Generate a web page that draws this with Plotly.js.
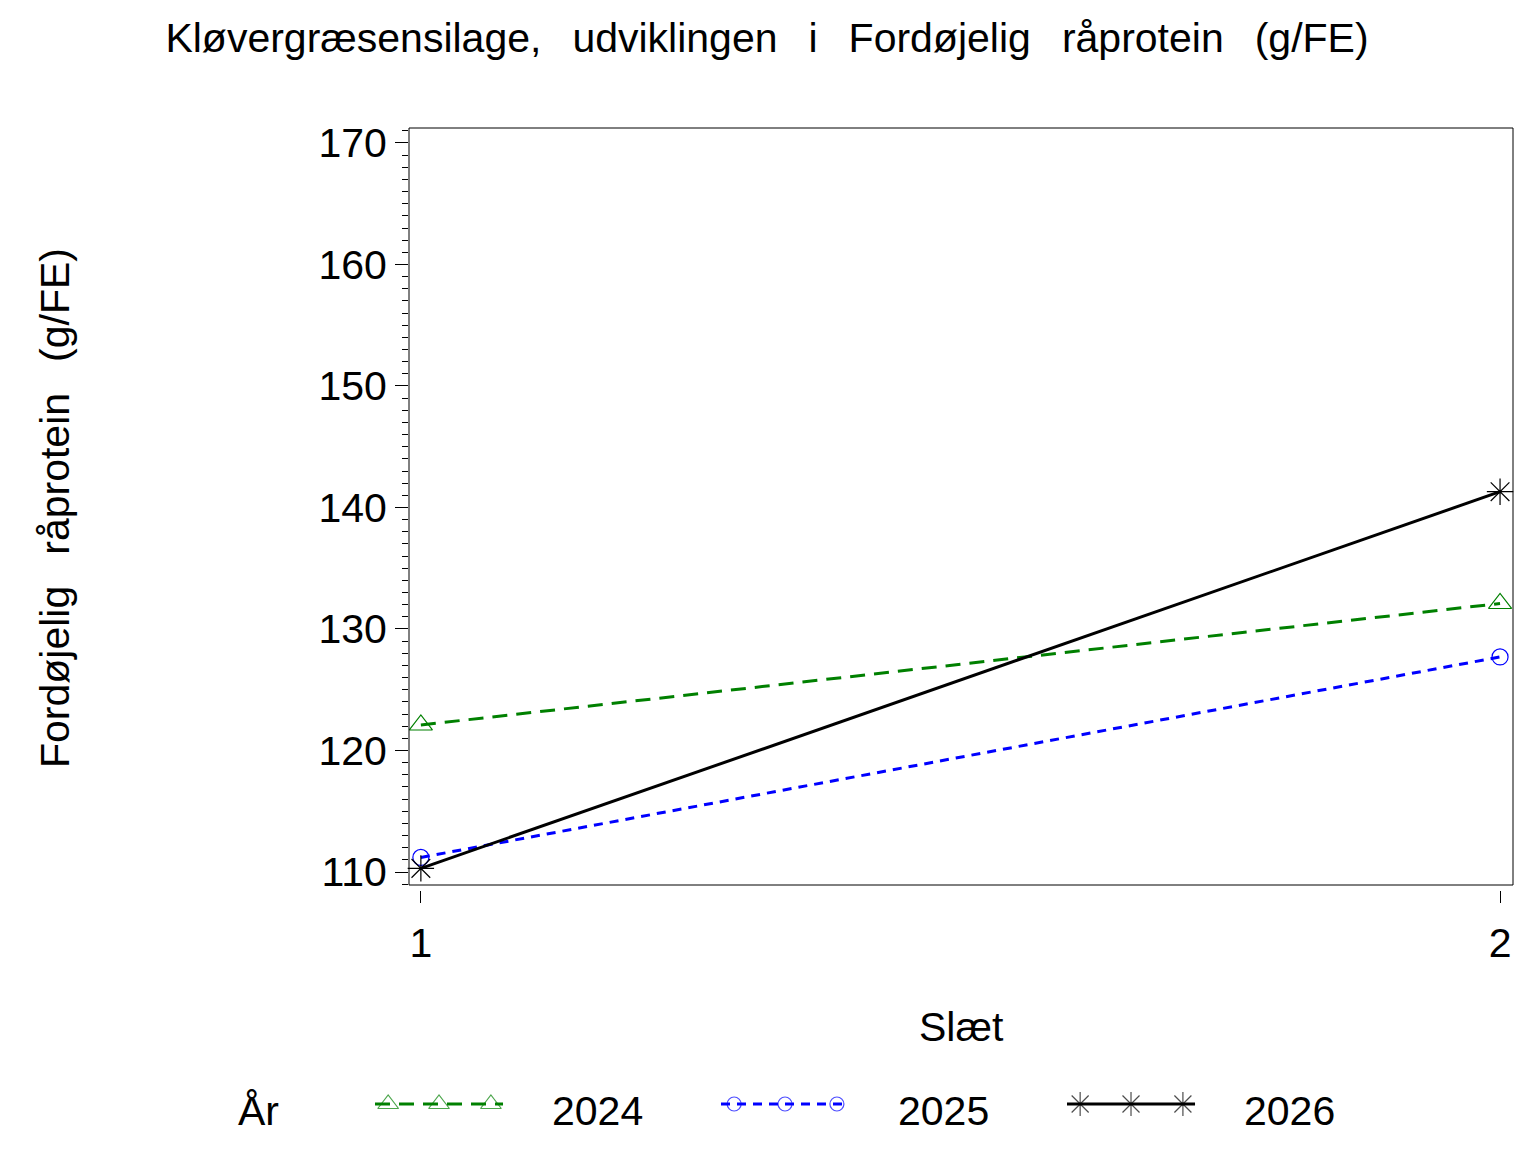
<!DOCTYPE html>
<html>
<head>
<meta charset="utf-8">
<script src="https://cdn.plot.ly/plotly-3.0.1.min.js"></script>
<style>
  html, body { margin: 0; padding: 0; background: #fff; }
  #chart { width: 1536px; height: 1152px; }
</style>
</head>
<body>
<div id="chart"></div>
<script>
// data
const slaet = [1, 2];
const aar = ['2024', '2025', '2026'];
const fp2024 = [122.1, 132.1];
const fp2025 = [111.2, 127.7];
const fp2026 = [110.3, 141.3];
const yTicks = [110, 120, 130, 140, 150, 160, 170];

const FONT = 'Liberation Sans, Arial, sans-serif';
const SP = '\u00a0\u2009 ';

const series = [
    { name: aar[0], y: fp2024, color: '#008000', dash: '15px,9px', symbol: 'triangle-up-open', size: 20 },
    { name: aar[1], y: fp2025, color: '#0000ff', dash: '9px,7px', symbol: 'circle-open', size: 16 },
    { name: aar[2], y: fp2026, color: '#000000', dash: 'solid', symbol: 'asterisk-open', size: 22 },
];

var data = [];
series.forEach((s) => {
    data.push({
        x: slaet,
        y: s.y,
        type: 'scatter',
        mode: 'lines+markers',
        name: s.name,
        showlegend: false,
        line: { color: s.color, width: 3, dash: s.dash },
        marker: { symbol: s.symbol, size: s.size, color: s.color, line: { color: s.color, width: 1.2 } },
        cliponaxis: false,
    });
});

// hand-made legend: each entry is one unit wide on x2
const legendOffsets = [0, 0.038, 0.185, 0.335, 0.37];
var annotations = [];
series.forEach((s, i) => {
    data.push({
        x: legendOffsets.map((o) => i + o),
        y: legendOffsets.map(() => 0),
        xaxis: 'x2',
        yaxis: 'y2',
        type: 'scatter',
        mode: 'lines+markers',
        showlegend: false,
        hoverinfo: 'skip',
        cliponaxis: false,
        line: { color: s.color, width: 3, dash: s.dash },
        marker: {
            symbol: s.symbol,
            size: legendOffsets.map((o, k) => (k == 0 || k == legendOffsets.length - 1) ? 0 : s.size - 2),
            color: s.color,
            line: { color: s.color, width: 1.2 }
        },
    });
    annotations.push({
        xref: 'x2', yref: 'paper', x: i + 0.506, y: 1 - 1111 / 1152,
        xanchor: 'left', yanchor: 'middle', showarrow: false,
        text: s.name, font: { family: FONT, size: 41, color: '#000' }
    });
});

annotations.push({
    xref: 'paper', yref: 'paper', x: 236 / 1536, y: 1 - 1111 / 1152,
    xanchor: 'left', yanchor: 'middle', showarrow: false,
    text: 'År', font: { family: FONT, size: 41, color: '#000' }
});
annotations.push({
    xref: 'paper', yref: 'paper', x: 961 / 1536, y: 1 - 1027 / 1152,
    xanchor: 'center', yanchor: 'middle', showarrow: false,
    text: 'Slæt', font: { family: FONT, size: 41, color: '#000' }
});
annotations.push({
    xref: 'paper', yref: 'paper', x: 55 / 1536, y: 1 - 508 / 1152,
    xanchor: 'center', yanchor: 'middle', showarrow: false, textangle: -90,
    text: 'Fordøjelig' + SP + 'råprotein' + SP + '(g/FE)',
    font: { family: FONT, size: 41, color: '#000' }
});

const layout = {
    width: 1536,
    height: 1152,
    margin: { l: 0, r: 0, t: 0, b: 0 },
    paper_bgcolor: '#fff',
    plot_bgcolor: 'rgba(0,0,0,0)',
    showlegend: false,
    font: { family: FONT, color: '#000' },
    title: {
        text: 'Kløvergræsensilage,' + SP + 'udviklingen' + SP + 'i' + SP + 'Fordøjelig' + SP + 'råprotein' + SP + '(g/FE)',
        font: { family: FONT, size: 41, color: '#000' },
        x: 767 / 1536, xanchor: 'center',
        y: 1 - 38 / 1152, yanchor: 'middle',
        xref: 'paper', yref: 'paper'
    },
    xaxis: {
        domain: [409 / 1536, 1513 / 1536],
        range: [0.989, 2.012],
        anchor: 'y',
        tickvals: slaet,
        ticktext: slaet.map(String),
        ticks: 'outside',
        ticklen: 12,
        tickwidth: 1,
        tickcolor: '#000',
        ticklabelstandoff: 5,
        tickfont: { family: FONT, size: 41, color: '#000' },
        showline: false,
        showgrid: false,
        zeroline: false,
    },
    yaxis: {
        // plot area runs 5px below the frame so the x ticks stand off from it
        domain: [(1152 - 890) / 1152, (1152 - 128) / 1152],
        range: [108.52, 171.23],
        anchor: 'x',
        tickvals: yTicks,
        ticks: 'outside',
        ticklen: 13,
        tickwidth: 1,
        tickcolor: '#000',
        tickfont: { family: FONT, size: 41, color: '#000' },
        minor: { dtick: 1, tick0: 110, ticks: 'outside', ticklen: 6, tickwidth: 1, tickcolor: '#000' },
        showline: false,
        showgrid: false,
        zeroline: false,
    },
    xaxis2: {
        domain: [375 / 1536, 1],
        range: [0, (1536 - 375) / 346],
        anchor: 'y2',
        visible: false,
        fixedrange: true,
    },
    yaxis2: {
        domain: [1 - 1124 / 1152, 1 - 1084 / 1152],
        range: [-1, 1],
        anchor: 'x2',
        visible: false,
        fixedrange: true,
    },
    shapes: [{
        type: 'rect', xref: 'x domain', yref: 'paper',
        x0: 0, x1: 1, y0: (1152 - 885) / 1152, y1: (1152 - 128) / 1152,
        line: { color: '#000', width: 1 }
    }],
    annotations: annotations,
};

Plotly.newPlot('chart', data, layout, { displayModeBar: false, staticPlot: true });
</script>
</body>
</html>
